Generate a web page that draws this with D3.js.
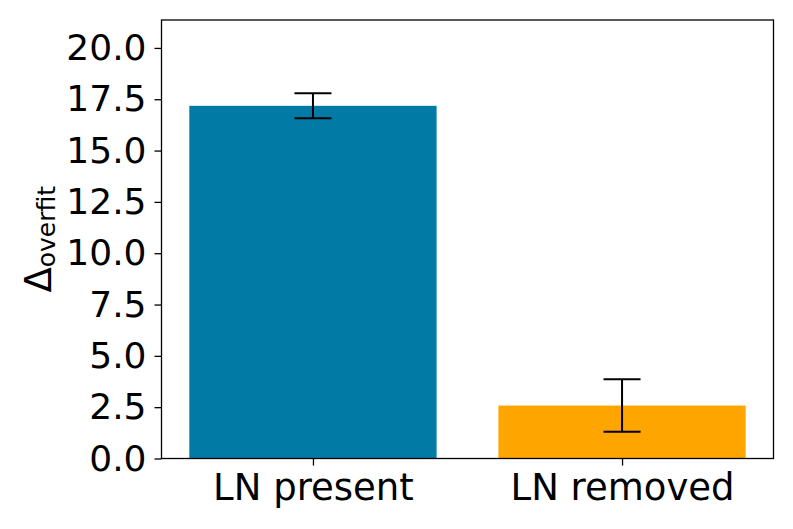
<!DOCTYPE html>
<html>
<head>
<meta charset="utf-8">
<script src="https://cdn.jsdelivr.net/npm/d3@7"></script>
<style>
  body { margin: 0; background: #fff; }
  text { font-family: "DejaVu Sans", sans-serif; fill: #000; }
</style>
</head>
<body>
<div id="chart"></div>
<script>
// data
var categories = ["LN present", "LN removed"];
var values = [17.18, 2.58];
var errors = [0.61, 1.28];
var colors = ["#017aa6", "#ffa500"];
var yTicks = [0, 2.5, 5, 7.5, 10, 12.5, 15, 17.5, 20];

var W = 793, H = 529;
var margin = { left: 161.5, right: 19.5, top: 20, bottom: 70.5 };

var svg = d3.select("#chart").append("svg")
  .attr("width", W)
  .attr("height", H);

var x = d3.scaleLinear()
  .domain([-0.49, 1.49])
  .range([margin.left, W - margin.right]);

var y = d3.scaleLinear()
  .domain([0, 21.36])
  .range([H - margin.bottom, margin.top]);

var barW = x(0.4) - x(-0.4);

// bars
svg.append("g").selectAll("rect")
  .data(values)
  .join("rect")
  .attr("x", (d, i) => x(i) - barW / 2)
  .attr("width", barW)
  .attr("y", d => y(d))
  .attr("height", d => y(0) - y(d))
  .attr("fill", (d, i) => colors[i]);

// error bars
var capW = 37;
var err = svg.append("g").attr("stroke", "#000").attr("stroke-width", 2);
values.forEach(function (v, i) {
  var cx = x(i);
  err.append("line")
    .attr("x1", cx).attr("x2", cx)
    .attr("y1", y(v - errors[i])).attr("y2", y(v + errors[i]));
  [v - errors[i], v + errors[i]].forEach(function (e) {
    err.append("line")
      .attr("x1", cx - capW / 2).attr("x2", cx + capW / 2)
      .attr("y1", y(e)).attr("y2", y(e));
  });
});

// axes
var yAxis = d3.axisLeft(y)
  .tickValues(yTicks)
  .tickFormat(d3.format(".1f"))
  .tickSize(7)
  .tickPadding(8);

var xAxis = d3.axisBottom(x)
  .tickValues([0, 1])
  .tickFormat((d, i) => categories[i])
  .tickSize(7)
  .tickPadding(8);

var gy = svg.append("g")
  .attr("transform", `translate(${margin.left},0)`)
  .call(yAxis);

var gx = svg.append("g")
  .attr("transform", `translate(0,${H - margin.bottom})`)
  .call(xAxis);

[gx, gy].forEach(function (g) {
  g.select(".domain").remove();
  g.selectAll(".tick line").attr("stroke", "#000").attr("stroke-width", 1.3);
  g.selectAll(".tick text")
    .attr("font-family", "DejaVu Sans")
    .attr("font-size", 36)
    .attr("fill", "#000");
});
gx.selectAll(".tick text").attr("font-size", 37);

// frame
svg.append("rect")
  .attr("x", margin.left)
  .attr("y", margin.top)
  .attr("width", W - margin.right - margin.left)
  .attr("height", H - margin.bottom - margin.top)
  .attr("fill", "none")
  .attr("stroke", "#000")
  .attr("stroke-width", 1.3);

// y label
var yl = svg.append("text")
  .attr("transform", `translate(51,${(margin.top + H - margin.bottom) / 2}) rotate(-90)`)
  .attr("text-anchor", "middle")
  .attr("font-size", 37);
yl.append("tspan").text("\u0394");
yl.append("tspan")
  .attr("font-size", 25)
  .attr("dy", 4)
  .text("overfit");
</script>
</body>
</html>
